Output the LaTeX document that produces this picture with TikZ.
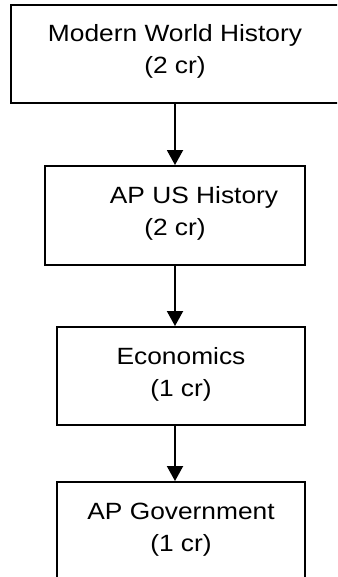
\documentclass[tikz,border=0pt]{standalone}
\usepackage{fontspec}
\setmainfont{Liberation Sans}[FakeStretch=1.12]
\usetikzlibrary{arrows.meta}
\tikzset{
  box/.style={draw=black, line width=1.9pt, rectangle, align=center, inner sep=0pt,
    font=\fontsize{23.5pt}{32pt}\selectfont, text height=52pt, text depth=12pt},
  conn/.style={line width=1.9pt, -{Triangle[length=15pt,width=16pt]}}
}
\begin{document}
\begin{tikzpicture}[x=1pt,y=-1pt]
\useasboundingbox (0,0) rectangle (337,577);
\clip (0,0) rectangle (337,577);
\node[box, minimum width=328pt, minimum height=98pt] (b1) at (175,54) {Modern World History\\(2 cr)};
\node[box, minimum width=260pt, minimum height=99pt] (b2) at (175,215.5) {\hspace*{38pt}AP US History\\(2 cr)};
\node[box, minimum width=248pt, minimum height=98pt] (b3) at (181,376) {Economics\\(1 cr)};
\node[box, minimum width=248pt, minimum height=98pt] (b4) at (181,531) {AP Government\\(1 cr)};
\draw[conn] (b1.south) -- (b2.north);
\draw[conn] (b2.south) -- (b2.south |- b3.north);
\draw[conn] (b2.south |- b3.south) -- (b2.south |- b4.north);
\end{tikzpicture}
\end{document}
